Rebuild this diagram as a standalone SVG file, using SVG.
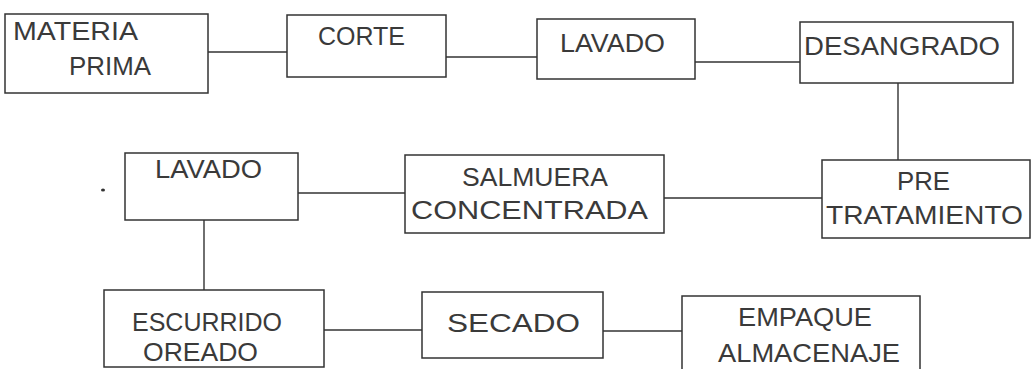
<svg xmlns="http://www.w3.org/2000/svg" width="1035" height="369" viewBox="0 0 1035 369">
<style>
.box{fill:#fff;stroke:#333;stroke-width:1.5}
.t{font-family:"Liberation Sans",Arial,sans-serif;font-size:25px;fill:#3a3a3a}
.c line{stroke:#333;stroke-width:1.4}
</style>
<rect width="1035" height="369" fill="#fff"/>
<g class="c" id="connectors">
<line x1="208" y1="52" x2="287" y2="52"/>
<line x1="446" y1="57" x2="537" y2="57"/>
<line x1="695" y1="62" x2="800" y2="62"/>
<line x1="898" y1="83" x2="898" y2="160"/>
<line x1="822" y1="198" x2="664" y2="198"/>
<line x1="405" y1="193" x2="298" y2="193"/>
<line x1="204" y1="220" x2="204" y2="290"/>
<line x1="324" y1="330" x2="422" y2="330"/>
<line x1="603" y1="331" x2="682" y2="331"/>
</g>
<g id="materia-prima">
<rect class="box" x="5" y="14" width="203" height="79"/>
<text class="t" x="13" y="40" textLength="125" lengthAdjust="spacingAndGlyphs">MATERIA</text>
<text class="t" x="69" y="75" textLength="82" lengthAdjust="spacingAndGlyphs">PRIMA</text>
</g>
<g id="corte">
<rect class="box" x="287" y="15" width="159" height="62"/>
<text class="t" x="318" y="45" textLength="87" lengthAdjust="spacingAndGlyphs">CORTE</text>
</g>
<g id="lavado1">
<rect class="box" x="537" y="19" width="158" height="60"/>
<text class="t" x="560" y="52" textLength="105" lengthAdjust="spacingAndGlyphs">LAVADO</text>
</g>
<g id="desangrado">
<rect class="box" x="800" y="22" width="213" height="61"/>
<text class="t" x="804" y="55" textLength="196" lengthAdjust="spacingAndGlyphs">DESANGRADO</text>
</g>
<g id="lavado2">
<rect class="box" x="125" y="153" width="173" height="67"/>
<text class="t" x="155" y="178" textLength="107" lengthAdjust="spacingAndGlyphs">LAVADO</text>
</g>
<g id="salmuera">
<rect class="box" x="405" y="155" width="259" height="78"/>
<text class="t" x="462" y="186" textLength="146" lengthAdjust="spacingAndGlyphs">SALMUERA</text>
<text class="t" x="411" y="219" textLength="237" lengthAdjust="spacingAndGlyphs">CONCENTRADA</text>
</g>
<g id="pretratamiento">
<rect class="box" x="822" y="160" width="208" height="78"/>
<text class="t" x="897" y="190" textLength="53" lengthAdjust="spacingAndGlyphs">PRE</text>
<text class="t" x="826" y="224" textLength="197" lengthAdjust="spacingAndGlyphs">TRATAMIENTO</text>
</g>
<g id="escurrido">
<rect class="box" x="104" y="290" width="220" height="77"/>
<text class="t" x="132" y="331" textLength="150" lengthAdjust="spacingAndGlyphs">ESCURRIDO</text>
<text class="t" x="143" y="361" textLength="115" lengthAdjust="spacingAndGlyphs">OREADO</text>
</g>
<g id="secado">
<rect class="box" x="422" y="292" width="181" height="66"/>
<text class="t" x="447" y="332" textLength="133" lengthAdjust="spacingAndGlyphs">SECADO</text>
</g>
<g id="empaque">
<rect class="box" x="682" y="296" width="238" height="80"/>
<text class="t" x="738" y="326" textLength="134" lengthAdjust="spacingAndGlyphs">EMPAQUE</text>
<text class="t" x="718" y="362" textLength="182" lengthAdjust="spacingAndGlyphs">ALMACENAJE</text>
</g>
<ellipse cx="103" cy="190" rx="2" ry="1.5" fill="#333"/>
</svg>
